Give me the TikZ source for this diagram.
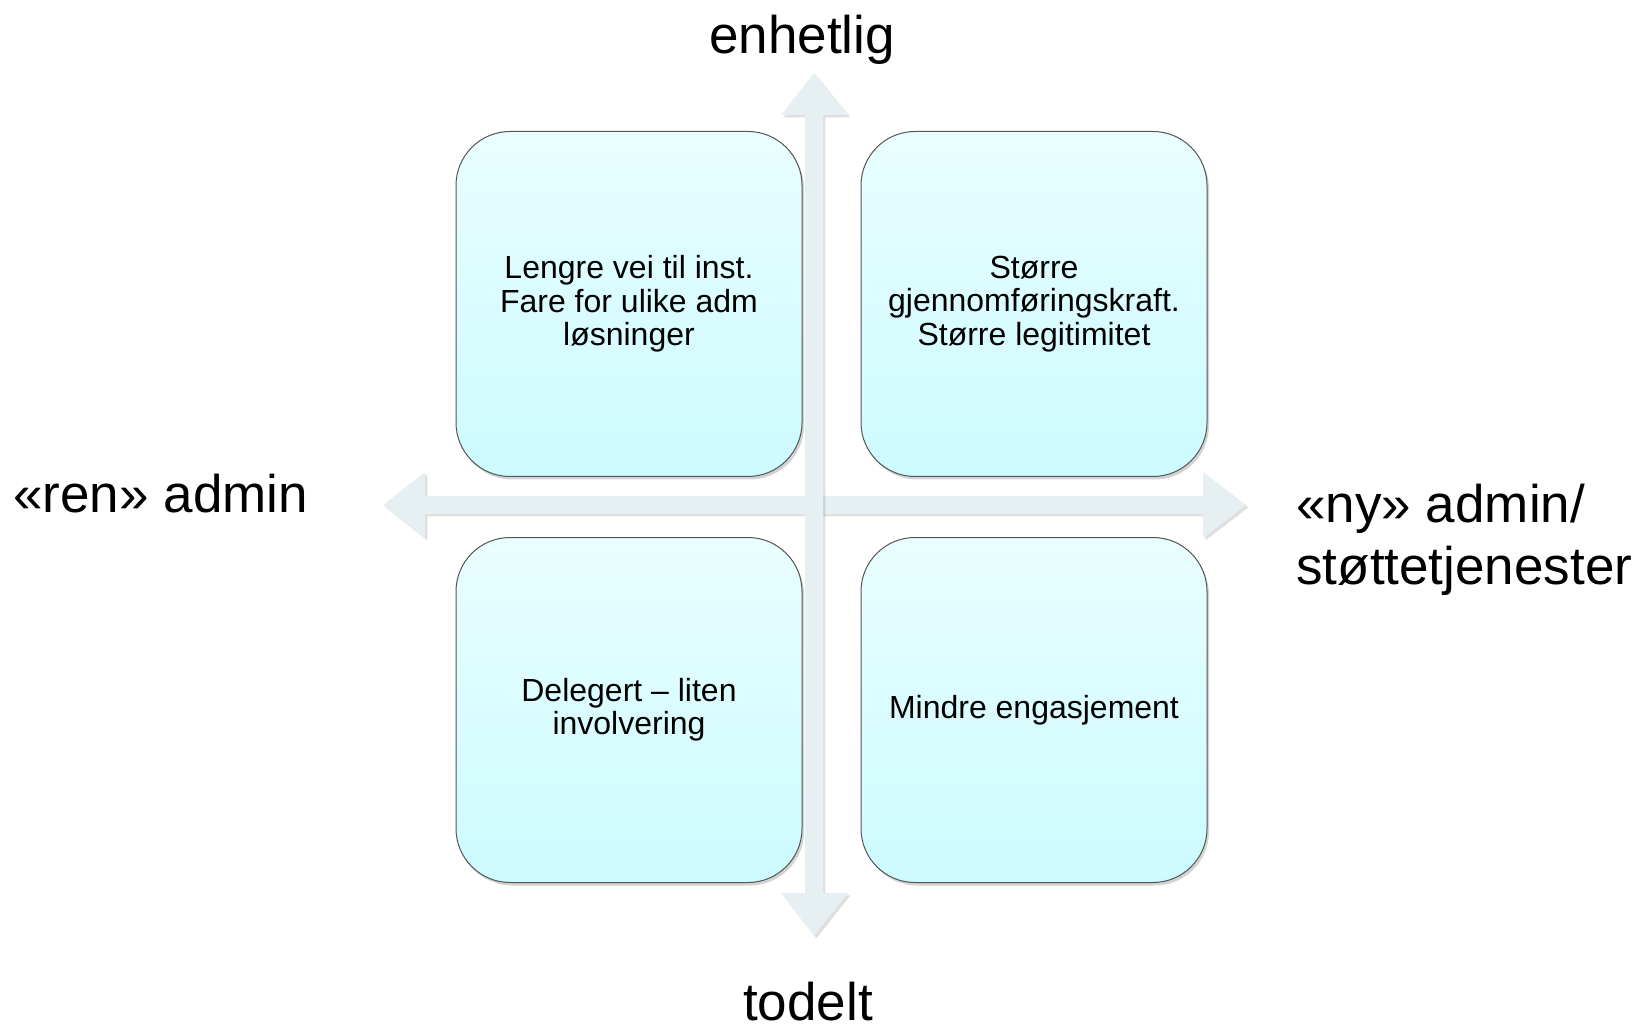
\documentclass[tikz,border=0pt]{standalone}
\usepackage{fontspec}
\setmainfont{Liberation Sans}
\usetikzlibrary{shadows}
\definecolor{axisfill}{HTML}{E6F0F3}
\definecolor{boxtop}{HTML}{E9FEFF}
\definecolor{boxbottom}{HTML}{CCFBFF}
\definecolor{boxline}{HTML}{555555}
\tikzset{
  quadbox/.style={draw=boxline, line width=0.5pt, rounded corners=27pt,
    top color=boxtop, bottom color=boxbottom,
    minimum width=173pt, minimum height=172.5pt, align=center,
    font=\fontsize{16}{16.7}\selectfont,
    drop shadow={shadow xshift=1pt, shadow yshift=-1.5pt, opacity=0.35}},
  axisarrow/.style={fill=axisfill, draw=none,
    drop shadow={shadow xshift=1.2pt, shadow yshift=-1.2pt, opacity=0.25}},
  axislabel/.style={font=\fontsize{26.5}{31}\selectfont, align=left, inner sep=0pt}
}
\begin{document}
\begin{tikzpicture}[x=0.5pt, y=-0.5pt]
    \useasboundingbox (0,0) rectangle (1635,1032);
    % Horisontal akse
    \path[axisarrow] (383,505) -- (425,472) -- (425,496) -- (1203,496) -- (1203,472)
        -- (1246,505) -- (1203,538) -- (1203,514) -- (425,514) -- (425,538) -- cycle;
    % Vertikal akse
    \path[axisarrow] (814,73) -- (848,115) -- (823,115) -- (823,893) -- (848,893)
        -- (814,936) -- (781,893) -- (805,893) -- (805,115) -- (781,115) -- cycle;
    % Kvadranter
    \node[quadbox] (oppvenstre) at (629,304) {Lengre vei til inst.\\Fare for ulike adm\\løsninger};
    \node[quadbox] (opphoyre) at (1034,304) {Større\\gjennomføringskraft.\\Større legitimitet};
    \node[quadbox] (nedvenstre) at (629,710) {Delegert – liten\\involvering};
    \node[quadbox] (nedhoyre) at (1034,710) {Mindre engasjement};
    % Aksetekster
    \node[axislabel, anchor=base] (enhetlig) at (802,54) {enhetlig};
    \node[axislabel, anchor=base] (todelt) at (808,1020) {todelt};
    \node[axislabel, anchor=base west] (ren) at (13,513) {«ren» admin};
    \node[axislabel, anchor=west] (ny) at (1296,540) {«ny» admin/\\støttetjenester};
\end{tikzpicture}
\end{document}
